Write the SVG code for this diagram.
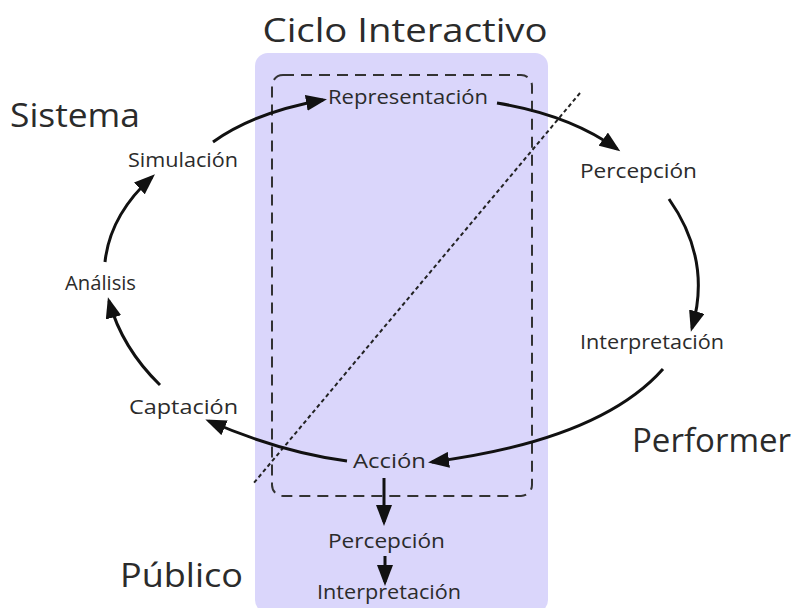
<svg xmlns="http://www.w3.org/2000/svg" width="797" height="608" viewBox="0 0 797 608">
<defs>
<marker id="ah" markerUnits="userSpaceOnUse" markerWidth="22" markerHeight="16" refX="17" refY="8" orient="auto">
<path d="M0,0 L21,8 L0,16 z" fill="#111"/>
</marker>
<style>
text{font-family:"Open Sans","DejaVu Sans",sans-serif;fill:#2b2b2b;}
.big{font-size:33px;}
.sm{font-size:20px;}
.c{fill:none;stroke:#111;stroke-width:3;marker-end:url(#ah);}
</style>
</defs>
<rect width="797" height="608" fill="#fff"/>
<g id="ciclo">
<rect x="255" y="53" width="293" height="560" rx="13" fill="#dad6fb"/>
<rect x="272" y="75" width="260" height="421" rx="11" fill="none" stroke="#333" stroke-width="2" stroke-dasharray="11,7"/>
<line x1="580" y1="93" x2="253" y2="484" stroke="#222" stroke-width="2" stroke-dasharray="4,3"/>
<text class="big" x="405" y="42" text-anchor="middle" textLength="285" lengthAdjust="spacingAndGlyphs">Ciclo Interactivo</text>
</g>
<g id="labels">
<text class="big" x="10" y="127" textLength="130" lengthAdjust="spacingAndGlyphs">Sistema</text>
<text class="big" x="632" y="452" textLength="159" lengthAdjust="spacingAndGlyphs">Performer</text>
<text class="big" x="120" y="587" textLength="123" lengthAdjust="spacingAndGlyphs">Público</text>
</g>
<g id="connectors">
<path class="c" d="M213 142 Q255 112 323 100"/>
<path class="c" d="M497 103 Q570 115 617 149"/>
<path class="c" d="M669 199 Q712 260 692 328"/>
<path class="c" d="M663 369 Q600 440 432 462"/>
<path class="c" d="M347 461 Q280 452 209 421"/>
<path class="c" d="M160 385 Q122 348 109 301"/>
<path class="c" d="M105 262 Q110 215 152 177"/>
<path class="c" d="M384 478 L384 522"/>
<path class="c" d="M385 556 L385 582"/>
</g>
<g id="n-representacion"><text class="sm" x="328" y="104" textLength="160" lengthAdjust="spacingAndGlyphs">Representación</text></g>
<g id="n-percepcion"><text class="sm" x="580" y="178" textLength="117" lengthAdjust="spacingAndGlyphs">Percepción</text></g>
<g id="n-interpretacion"><text class="sm" x="580" y="349" textLength="144" lengthAdjust="spacingAndGlyphs">Interpretación</text></g>
<g id="n-accion"><text class="sm" x="353" y="468" textLength="73" lengthAdjust="spacingAndGlyphs">Acción</text></g>
<g id="n-captacion"><text class="sm" x="129" y="414" textLength="109" lengthAdjust="spacingAndGlyphs">Captación</text></g>
<g id="n-analisis"><text class="sm" x="65" y="290" textLength="71" lengthAdjust="spacingAndGlyphs">Análisis</text></g>
<g id="n-simulacion"><text class="sm" x="128" y="167" textLength="110" lengthAdjust="spacingAndGlyphs">Simulación</text></g>
<g id="n-percepcion-publico"><text class="sm" x="328" y="548" textLength="117" lengthAdjust="spacingAndGlyphs">Percepción</text></g>
<g id="n-interpretacion-publico"><text class="sm" x="317" y="599" textLength="144" lengthAdjust="spacingAndGlyphs">Interpretación</text></g>
</svg>
